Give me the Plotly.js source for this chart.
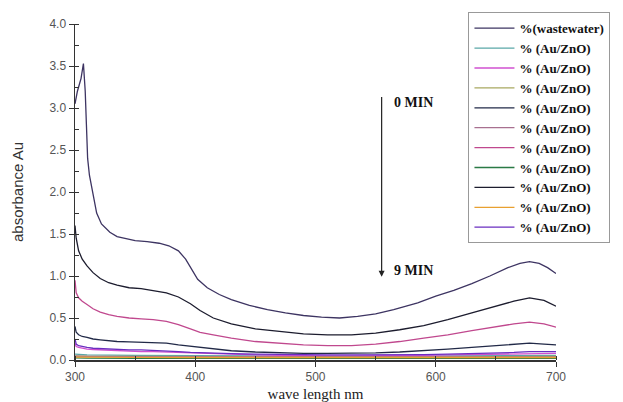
<!DOCTYPE html>
<html>
<head>
<meta charset="utf-8">
<script src="https://cdn.plot.ly/plotly-3.0.1.min.js"></script>
<style>html,body{margin:0;padding:0;background:#fff;}#chart{width:623px;height:402px;}</style>
</head>
<body>
<div id="chart"></div>
<script>
// legend labels (in legend order)
const seriesNames = ["%(wastewater)", "% (Au/ZnO)", "% (Au/ZnO)", "% (Au/ZnO)", "% (Au/ZnO)",
  "% (Au/ZnO)", "% (Au/ZnO)", "% (Au/ZnO)", "% (Au/ZnO)", "% (Au/ZnO)", "% (Au/ZnO)"];
const seriesColors = ["#3d3462", "#5aa7a7", "#d050d0", "#a8a860", "#222a48",
  "#a87090", "#c0488e", "#2a7a45", "#1c1c2e", "#e8a030", "#6a2ec0"];

// wavelength grids (nm)
const wlTop = [300, 302, 304, 305, 307, 308.5, 309.5, 310.5, 312, 315, 318, 322, 329, 335, 343, 350, 360, 370, 378, 386, 392, 397, 402, 410, 420, 430, 445, 460, 475, 490, 505, 520, 535, 550, 565, 585, 600, 615, 630, 645, 660, 670, 678, 686, 693, 700];
const wl = [300, 301, 303, 306, 310, 315, 321, 328, 335, 345, 355, 365, 376, 386, 396, 404, 415, 430, 450, 470, 490, 510, 530, 550, 570, 590, 610, 630, 650, 665, 678, 690, 700];
const wlLow = [300, 310, 350, 400, 450, 500, 550, 600, 650, 700];

// absorbance values
const s1 = [3.05, 3.2, 3.3, 3.35, 3.53, 3.2, 2.8, 2.4, 2.2, 1.95, 1.75, 1.62, 1.52, 1.47, 1.44, 1.42, 1.41, 1.39, 1.36, 1.30, 1.20, 1.08, 0.96, 0.86, 0.78, 0.72, 0.65, 0.6, 0.56, 0.53, 0.51, 0.5, 0.52, 0.55, 0.6, 0.68, 0.76, 0.83, 0.91, 1.0, 1.1, 1.15, 1.17, 1.15, 1.1, 1.03];
const s9 = [1.6, 1.45, 1.3, 1.2, 1.12, 1.04, 0.97, 0.92, 0.89, 0.86, 0.85, 0.83, 0.8, 0.75, 0.67, 0.59, 0.5, 0.43, 0.37, 0.34, 0.31, 0.3, 0.3, 0.32, 0.36, 0.41, 0.48, 0.56, 0.64, 0.7, 0.74, 0.71, 0.64];
const s7 = [0.95, 0.8, 0.74, 0.7, 0.66, 0.61, 0.57, 0.54, 0.52, 0.5, 0.49, 0.48, 0.46, 0.42, 0.37, 0.33, 0.3, 0.26, 0.22, 0.2, 0.18, 0.17, 0.17, 0.19, 0.22, 0.26, 0.3, 0.35, 0.4, 0.43, 0.45, 0.43, 0.39];
const s5 = [0.4, 0.33, 0.3, 0.28, 0.27, 0.25, 0.24, 0.23, 0.22, 0.215, 0.21, 0.2, 0.2, 0.18, 0.165, 0.15, 0.13, 0.11, 0.095, 0.085, 0.08, 0.08, 0.08, 0.085, 0.095, 0.11, 0.13, 0.15, 0.17, 0.19, 0.2, 0.19, 0.18];
const s11 = [0.25, 0.19, 0.17, 0.16, 0.15, 0.14, 0.135, 0.13, 0.125, 0.12, 0.12, 0.115, 0.11, 0.1, 0.09, 0.085, 0.08, 0.075, 0.07, 0.065, 0.06, 0.06, 0.06, 0.06, 0.06, 0.065, 0.07, 0.075, 0.085, 0.09, 0.1, 0.1, 0.1];
const s3 = [0.2, 0.16, 0.15, 0.14, 0.13, 0.125, 0.12, 0.115, 0.11, 0.105, 0.1, 0.1, 0.095, 0.09, 0.08, 0.075, 0.07, 0.065, 0.06, 0.055, 0.05, 0.05, 0.05, 0.05, 0.05, 0.055, 0.06, 0.065, 0.07, 0.075, 0.08, 0.08, 0.08];
const s2 = [0.07, 0.06, 0.055, 0.05, 0.048, 0.045, 0.045, 0.048, 0.05, 0.055];
const s4 = [0.05, 0.045, 0.042, 0.04, 0.038, 0.036, 0.036, 0.038, 0.04, 0.042];
const s6 = [0.045, 0.042, 0.04, 0.038, 0.036, 0.035, 0.035, 0.035, 0.036, 0.037];
const s8 = [0.025, 0.022, 0.02, 0.02, 0.018, 0.018, 0.018, 0.018, 0.02, 0.02];
const s10 = [0.035, 0.033, 0.032, 0.03, 0.03, 0.028, 0.028, 0.03, 0.03, 0.03];

const xs = [wlTop, wlLow, wl, wlLow, wl, wlLow, wl, wlLow, wl, wlLow, wl];
const ys = [s1, s2, s3, s4, s5, s6, s7, s8, s9, s10, s11];

const traces = ys.map((y, i) => ({
  x: xs[i], y: y, type: 'scatter', mode: 'lines',
  name: seriesNames[i],
  line: {color: seriesColors[i], width: 1.3}
}));

const serif = "Liberation Serif, Times New Roman, serif";
const sans = "Liberation Sans, Arial, sans-serif";

const layout = {
  width: 623, height: 402,
  margin: {l: 75, r: 67, t: 20, b: 42},
  paper_bgcolor: '#fff', plot_bgcolor: '#fff',
  showlegend: true,
  legend: {
    x: 0.818, y: 1.035, xanchor: 'left', yanchor: 'top',
    bgcolor: '#fff', bordercolor: '#999', borderwidth: 1,
    font: {family: serif, size: 13, color: '#111', weight: 'bold'},
    tracegroupgap: 0, itemwidth: 40, maxheight: 380
  },
  xaxis: {
    range: [300, 700], dtick: 100, tick0: 300,
    showgrid: false, zeroline: false,
    showline: true, linecolor: '#333', linewidth: 1.5,
    ticks: 'outside', ticklen: 5, tickcolor: '#333',
    minor: {dtick: 50, ticks: 'inside', ticklen: 4, tickcolor: '#333'},
    tickfont: {family: sans, size: 12, color: '#555'},
    title: {text: 'wave length nm', font: {family: serif, size: 15, color: '#222'}, standoff: 8}
  },
  yaxis: {
    range: [0, 4.0], dtick: 0.5, tickformat: '.1f',
    showgrid: false, zeroline: false,
    showline: true, linecolor: '#333', linewidth: 1.5,
    ticks: 'outside', ticklen: 5, tickcolor: '#333',
    minor: {dtick: 0.25, ticks: 'inside', ticklen: 4, tickcolor: '#333'},
    tickfont: {family: sans, size: 12, color: '#555'},
    title: {text: 'absorbance Au', font: {family: sans, size: 15, color: '#333'}, standoff: 22}
  },
  annotations: [
    {x: 555, y: 0.99, ax: 555, ay: 3.15, xref: 'x', yref: 'y', axref: 'x', ayref: 'y',
     text: '', showarrow: true, arrowhead: 2, arrowsize: 1, arrowwidth: 1.2, arrowcolor: '#222'},
    {x: 564, y: 3.06, xref: 'x', yref: 'y', xanchor: 'left', yanchor: 'middle', showarrow: false,
     text: '<b>0 MIN</b>', font: {family: serif, size: 14, color: '#111'}},
    {x: 564, y: 1.06, xref: 'x', yref: 'y', xanchor: 'left', yanchor: 'middle', showarrow: false,
     text: '<b>9 MIN</b>', font: {family: serif, size: 14, color: '#111'}}
  ]
};

Plotly.newPlot('chart', traces, layout, {displayModeBar: false, staticPlot: true});
</script>
</body>
</html>
